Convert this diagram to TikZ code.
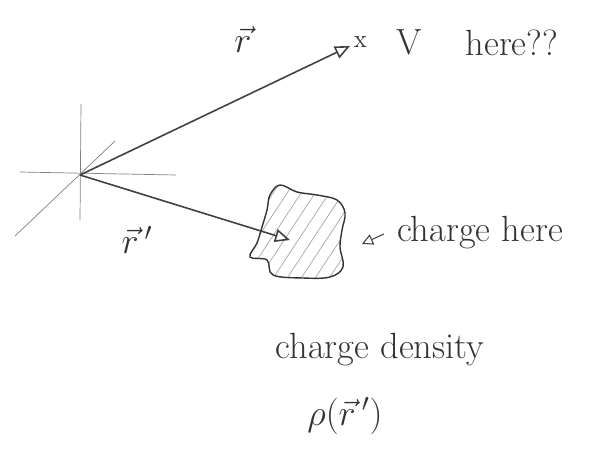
\documentclass[tikz,border=0pt]{standalone}
\usetikzlibrary{arrows.meta, positioning, calc}

\begin{document}
\begin{tikzpicture}[
  x=0.02cm, y=-0.02cm,
  font=\huge,
  node distance=2mm and 3mm,
  axis/.style={draw=black!50, line width=0.4pt},
  vec/.style={draw=black!75, line width=0.9pt, -{Triangle[open, length=3mm, width=2.6mm]}},
  pointer/.style={draw=black!75, line width=0.6pt, -{Triangle[open, length=2.2mm, width=2.2mm]}},
  txt/.style={text=black!80, inner sep=1pt},
  hatch/.style={draw=black!35, line width=0.4pt},
]
  \useasboundingbox (0,0) rectangle (605,450);

  % axes through the origin
  \coordinate (O) at (80,175);
  \coordinate (xl) at (20,172);
  \coordinate (xr) at (176,175);
  \coordinate (yt) at (81,104);
  \coordinate (yb) at (80,220);
  \coordinate (zb) at (15,236);
  \coordinate (zt) at (115,141);
  \draw[axis] (xl) -- (xr);
  \draw[axis] (yt) -- (yb);
  \draw[axis] (zb) -- (zt);

  % charge blob
  \def\blobpath{plot[smooth cycle, tension=0.6] coordinates {
    (270,195) (280,185) (297,192) (317,195) (337,200) (345,213) (342,230)
    (340,247) (343,267) (330,277) (303,278) (273,275) (267,260) (250,257)
    (257,243) (262,227) (267,210)}}
  \begin{scope}
    \clip \blobpath;
    \foreach \s in {180,194,...,360}
      \draw[hatch] (\s,292) -- (\s+75,178);
  \end{scope}
  \draw[draw=black!80, line width=0.8pt] \blobpath;

  % position vectors
  \coordinate (field) at (350,46);
  \coordinate (src) at (290,240);
  \draw[vec] (O) -- (field);
  \draw[vec] (O) -- (src);

  \node[txt] (rlab) at (243,40) {$\vec{r}$};
  \node[txt] (rplab) at (137,240) {$\vec{r}\,'$};

  % field point
  \node[txt, font=\Large, right=1pt of field, yshift=2pt] (cross) {x};
  \node[txt, right=5mm of cross] (V) {V};
  \node[txt, right=8mm of V] (here) {here??};

  % charge pointer
  \coordinate (tail) at (384,234);
  \coordinate (tip) at (362,244);
  \draw[pointer] (tail) -- (tip);
  \node[txt, anchor=west] (chg) at (395,233) {charge here};

  % density labels
  \node[txt] (dens) at (380,350) {charge density};
  \node[txt] (rho) at (345,416) {$\rho(\vec{r}\,')$};
\end{tikzpicture}
\end{document}
